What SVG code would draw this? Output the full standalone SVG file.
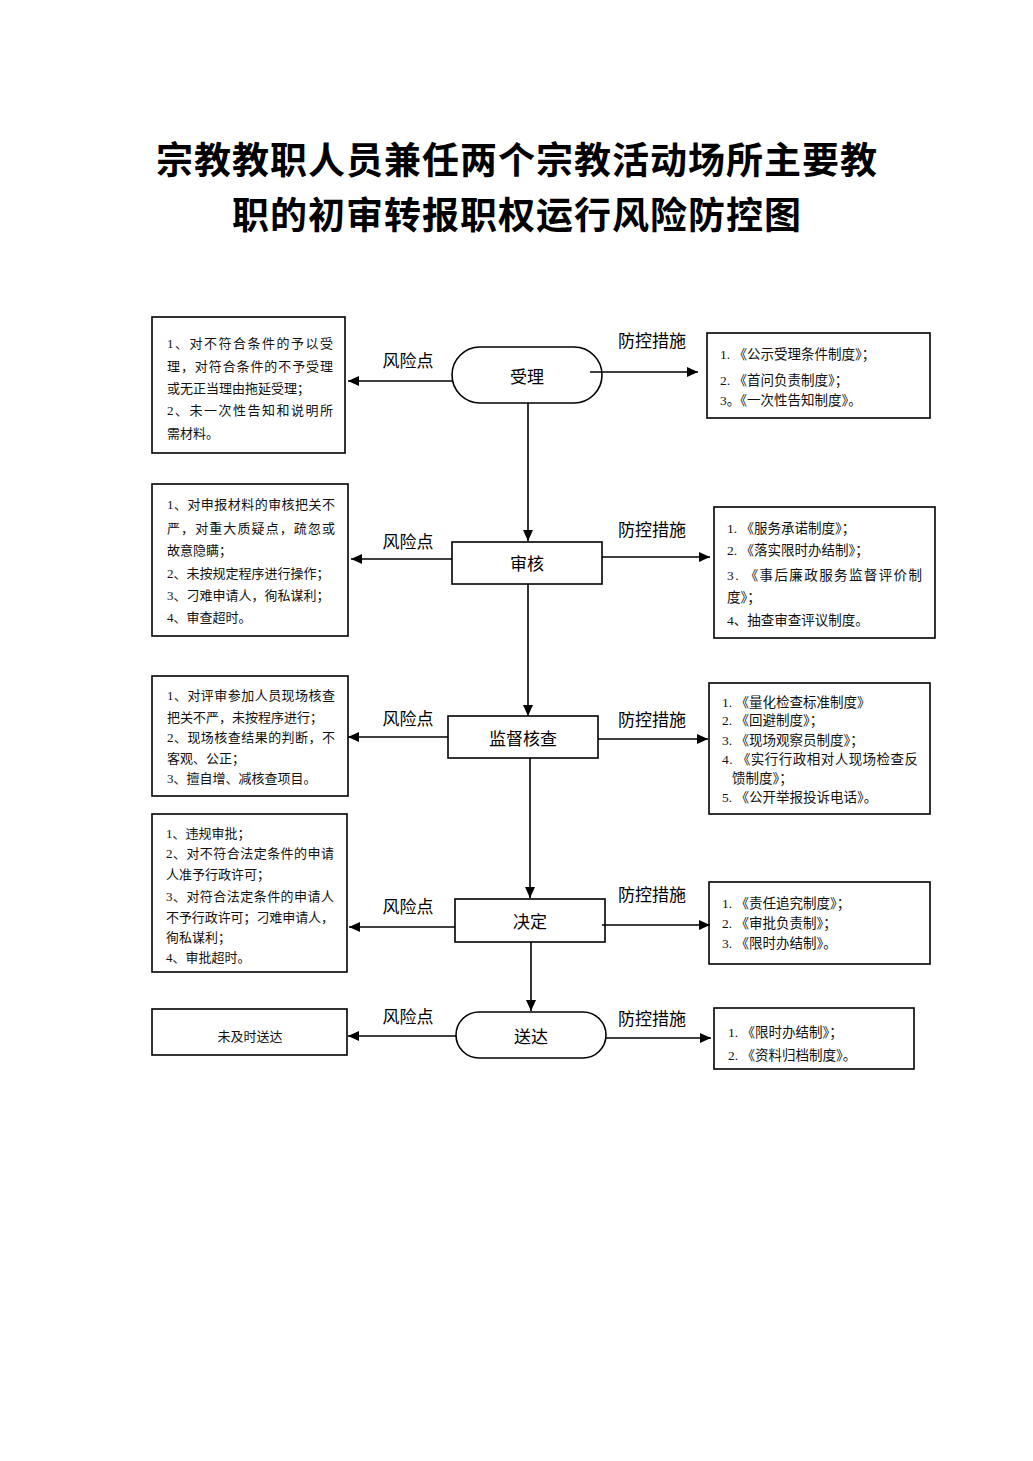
<svg xmlns="http://www.w3.org/2000/svg" width="1033" height="1461" viewBox="0 0 1033 1461">
<defs>
<marker id="ah" markerUnits="userSpaceOnUse" markerWidth="12" markerHeight="10" refX="11" refY="5" orient="auto">
<path d="M0,0 L11,5 L0,10 z" fill="#000"/>
</marker>
<style>
.box{fill:#fff;stroke:#000;stroke-width:1.6}
.t{font-family:"Liberation Serif","Noto Sans CJK SC",serif;font-size:13px;fill:#111;dominant-baseline:central}
.r{font-size:13.5px}
.lbl{font-family:"Noto Sans CJK SC",sans-serif;font-size:17px;fill:#000;dominant-baseline:central;text-anchor:middle}
.nd{font-family:"Noto Sans CJK SC",sans-serif;font-size:17px;fill:#000;dominant-baseline:central;text-anchor:middle}
.title{font-family:"Noto Sans CJK SC",sans-serif;font-size:37px;font-weight:bold;fill:#000;text-anchor:middle;dominant-baseline:central;letter-spacing:1px}
.c{fill:none;stroke:#000;stroke-width:1.6;marker-end:url(#ah)}
</style>
</defs>
<rect width="1033" height="1461" fill="#fff"/>
<g id="title">
<text class="title" x="517" y="158">宗教教职人员兼任两个宗教活动场所主要教</text>
<text class="title" x="517" y="213">职的初审转报职权运行风险防控图</text>
</g>

<g id="labels">
<text class="lbl" x="408" y="359">风险点</text>
<text class="lbl" x="652" y="339">防控措施</text>
<text class="lbl" x="408" y="540">风险点</text>
<text class="lbl" x="652" y="528">防控措施</text>
<text class="lbl" x="408" y="717">风险点</text>
<text class="lbl" x="652" y="718">防控措施</text>
<text class="lbl" x="408" y="905">风险点</text>
<text class="lbl" x="652" y="893">防控措施</text>
<text class="lbl" x="408" y="1015">风险点</text>
<text class="lbl" x="652" y="1017">防控措施</text>
</g>

<g id="n-shouli">
<rect class="box" x="452" y="347" width="150" height="56" rx="28" ry="28"/>
<text class="nd" x="527" y="375">受理</text>
</g>
<g id="n-shenhe">
<rect class="box" x="452" y="542" width="150" height="42"/>
<text class="nd" x="527" y="562">审核</text>
</g>
<g id="n-jiandu">
<rect class="box" x="448" y="716" width="150" height="42"/>
<text class="nd" x="523" y="737">监督核查</text>
</g>
<g id="n-jueding">
<rect class="box" x="455" y="899" width="150" height="43"/>
<text class="nd" x="530" y="920">决定</text>
</g>
<g id="n-songda">
<rect class="box" x="456" y="1012" width="150" height="46" rx="23" ry="23"/>
<text class="nd" x="531" y="1035">送达</text>
</g>

<g id="risk1">
<rect class="box" x="152" y="317" width="193" height="136"/>
<text class="t" x="167" y="343" textLength="166">1、对不符合条件的予以受</text>
<text class="t" x="167" y="366" textLength="166">理，对符合条件的不予受理</text>
<text class="t" x="167" y="388">或无正当理由拖延受理；</text>
<text class="t" x="167" y="410" textLength="166">2、未一次性告知和说明所</text>
<text class="t" x="167" y="433">需材料。</text>
</g>
<g id="risk2">
<rect class="box" x="152" y="484" width="196" height="152"/>
<text class="t" x="167" y="504" textLength="168">1、对申报材料的审核把关不</text>
<text class="t" x="167" y="528" textLength="168">严，对重大质疑点，疏忽或</text>
<text class="t" x="167" y="550">故意隐瞒；</text>
<text class="t" x="167" y="573">2、未按规定程序进行操作；</text>
<text class="t" x="167" y="595">3、刁难申请人，徇私谋利；</text>
<text class="t" x="167" y="617">4、审查超时。</text>
</g>
<g id="risk3">
<rect class="box" x="152" y="676" width="196" height="120"/>
<text class="t" x="167" y="695" textLength="168">1、对评审参加人员现场核查</text>
<text class="t" x="167" y="717">把关不严，未按程序进行；</text>
<text class="t" x="167" y="737" textLength="168">2、现场核查结果的判断，不</text>
<text class="t" x="167" y="758">客观、公正；</text>
<text class="t" x="167" y="778">3、擅自增、减核查项目。</text>
</g>
<g id="risk4">
<rect class="box" x="152" y="814" width="195" height="158"/>
<text class="t" x="166" y="833">1、违规审批；</text>
<text class="t" x="166" y="853" textLength="168">2、对不符合法定条件的申请</text>
<text class="t" x="166" y="874">人准予行政许可；</text>
<text class="t" x="166" y="896" textLength="168">3、对符合法定条件的申请人</text>
<text class="t" x="166" y="917" textLength="168">不予行政许可；刁难申请人，</text>
<text class="t" x="166" y="937">徇私谋利；</text>
<text class="t" x="166" y="957">4、审批超时。</text>
</g>
<g id="risk5">
<rect class="box" x="152" y="1009" width="195" height="46"/>
<text class="t" x="250" y="1036" text-anchor="middle">未及时送达</text>
</g>

<g id="ctrl1">
<rect class="box" x="707" y="333" width="223" height="85"/>
<text class="t r" x="720" y="354">1. 《公示受理条件制度》；</text>
<text class="t r" x="720" y="380">2. 《首问负责制度》；</text>
<text class="t r" x="720" y="400">3。《一次性告知制度》。</text>
</g>
<g id="ctrl2">
<rect class="box" x="714" y="507" width="221" height="131"/>
<text class="t r" x="727" y="528">1. 《服务承诺制度》；</text>
<text class="t r" x="727" y="550">2. 《落实限时办结制》；</text>
<text class="t r" x="727" y="575" textLength="195">3. 《事后廉政服务监督评价制</text>
<text class="t r" x="727" y="597">度》；</text>
<text class="t r" x="727" y="620">4、抽查审查评议制度。</text>
</g>
<g id="ctrl3">
<rect class="box" x="709" y="683" width="221" height="131"/>
<text class="t r" x="722" y="702">1. 《量化检查标准制度》</text>
<text class="t r" x="722" y="720">2. 《回避制度》；</text>
<text class="t r" x="722" y="740">3. 《现场观察员制度》；</text>
<text class="t r" x="722" y="759" textLength="196">4. 《实行行政相对人现场检查反</text>
<text class="t r" x="732" y="778">馈制度》；</text>
<text class="t r" x="722" y="797">5. 《公开举报投诉电话》。</text>
</g>
<g id="ctrl4">
<rect class="box" x="709" y="882" width="221" height="82"/>
<text class="t r" x="722" y="903">1. 《责任追究制度》；</text>
<text class="t r" x="722" y="923">2. 《审批负责制》；</text>
<text class="t r" x="722" y="943">3. 《限时办结制》。</text>
</g>
<g id="ctrl5">
<rect class="box" x="714" y="1008" width="200" height="61"/>
<text class="t r" x="728" y="1032">1. 《限时办结制》；</text>
<text class="t r" x="728" y="1055">2. 《资料归档制度》。</text>
</g>

<g id="connectors">
<line class="c" x1="452" y1="381" x2="348" y2="381"/>
<line class="c" x1="590" y1="372" x2="698" y2="372"/>
<line class="c" x1="528" y1="403" x2="528" y2="541"/>
<line class="c" x1="452" y1="559" x2="351" y2="559"/>
<line class="c" x1="602" y1="557" x2="710" y2="557"/>
<line class="c" x1="528" y1="584" x2="528" y2="716"/>
<line class="c" x1="448" y1="737" x2="348" y2="737"/>
<line class="c" x1="598" y1="739" x2="708" y2="739"/>
<line class="c" x1="530" y1="758" x2="530" y2="898"/>
<line class="c" x1="455" y1="927" x2="349" y2="927"/>
<line class="c" x1="602" y1="925" x2="710" y2="925"/>
<line class="c" x1="531" y1="942" x2="531" y2="1011"/>
<line class="c" x1="456" y1="1036" x2="348" y2="1036"/>
<line class="c" x1="606" y1="1038" x2="711" y2="1038"/>
</g>
</svg>
